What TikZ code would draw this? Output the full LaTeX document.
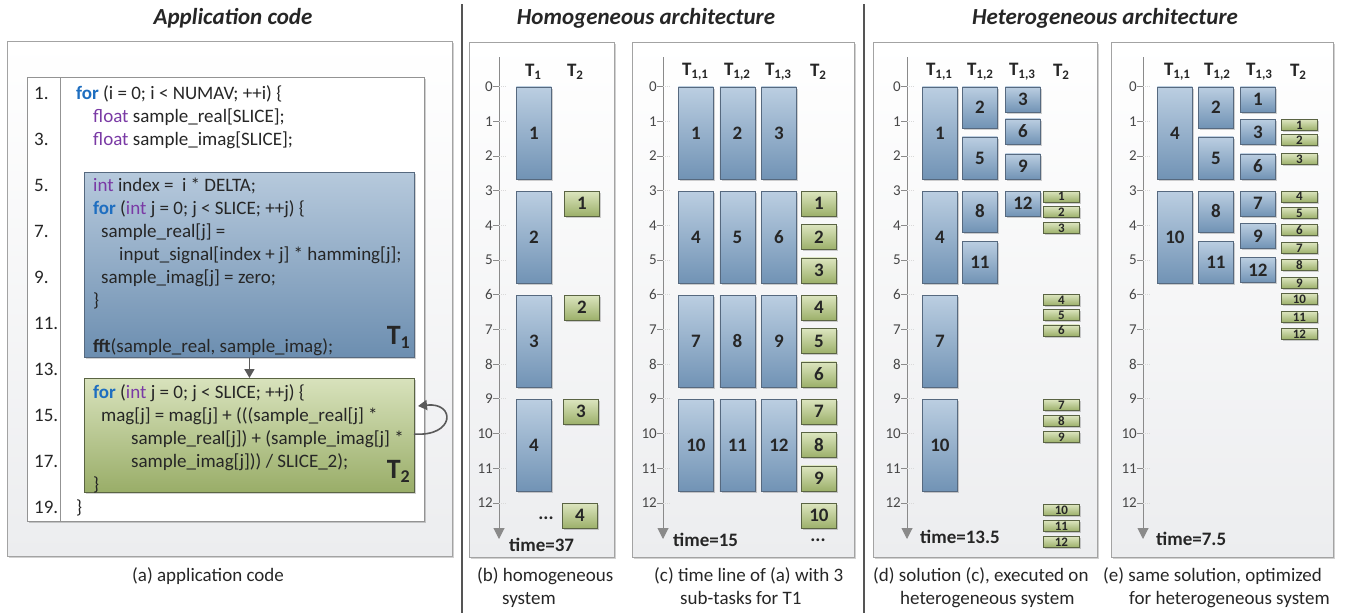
\documentclass[tikz,border=0pt]{standalone}
\usepackage{fontspec}
\setmainfont{Carlito}
\usetikzlibrary{arrows.meta,shadows}

\definecolor{ink}{HTML}{262626}
\definecolor{panelborder}{HTML}{A3A3A3}
\definecolor{panelbot}{HTML}{ECEDEF}
\definecolor{bluetop}{HTML}{BBCEE1}
\definecolor{bluebot}{HTML}{7193B5}
\definecolor{blueedge}{HTML}{56697F}
\definecolor{greentop}{HTML}{DCE5BF}
\definecolor{greenbot}{HTML}{9CB06A}
\definecolor{greenedge}{HTML}{5A6443}
\definecolor{codebluetop}{HTML}{B6C9DC}
\definecolor{codebluebot}{HTML}{6C8EB0}
\definecolor{codegreentop}{HTML}{D8E2BC}
\definecolor{codegreenbot}{HTML}{99AD68}
\definecolor{kwblue}{HTML}{1E6EC0}
\definecolor{kwpurple}{HTML}{7A3AA5}
\definecolor{axisgray}{HTML}{8A8A8A}
\definecolor{sepgray}{HTML}{555555}
\definecolor{arrowgray}{HTML}{5A5A5A}

\newcommand\kwfor[1]{\textcolor{kwblue}{\bfseries #1}}
\newcommand\kwtype[1]{\textcolor{kwpurple}{#1}}
\newcommand\Th[1]{T\raisebox{-0.35ex}{\fontsize{13}{13}\selectfont #1}}

\tikzset{
  softshadow/.style={drop shadow={shadow xshift=2pt,shadow yshift=-2pt,fill=black,opacity=0.18}},
  panel/.style={draw=panelborder, line width=0.8pt, top color=white, bottom color=panelbot,
    anchor=north west, inner sep=0, softshadow},
  codepanel/.style={draw=panelborder!90!black, line width=0.8pt, fill=white,
    anchor=north west, inner sep=0, softshadow},
  title/.style={font=\fontsize{23}{23}\selectfont\bfseries\itshape, text=ink},
  caption/.style={font=\fontsize{19}{22}\selectfont, text=ink, anchor=base west, inner sep=0},
  codetext/.style={font=\fontsize{19}{23}\selectfont, text=ink, anchor=base west, inner sep=0},
  codeblue/.style={draw=blueedge, line width=0.9pt, top color=codebluetop, bottom color=codebluebot,
    anchor=north west, inner sep=0, minimum width=330, softshadow},
  codegreen/.style={draw=greenedge, line width=0.9pt, top color=codegreentop, bottom color=codegreenbot,
    anchor=north west, inner sep=0, minimum width=330, softshadow},
  tasklabel/.style={font=\fontsize{28}{28}\selectfont\bfseries, text=ink, anchor=base east, inner sep=0},
  bluetask/.style={draw=blueedge, line width=0.8pt, top color=bluetop, bottom color=bluebot,
    anchor=north west, inner sep=0, minimum width=35, text=ink,
    font=\fontsize{19}{19}\selectfont\bfseries, softshadow},
  greentask/.style={draw=greenedge, line width=0.8pt, top color=greentop, bottom color=greenbot,
    anchor=north west, inner sep=0, minimum width=35, text=ink,
    font=\fontsize{19}{19}\selectfont\bfseries, softshadow},
  greenslim/.style={draw=greenedge, line width=0.8pt, top color=greentop, bottom color=greenbot,
    anchor=north west, inner sep=0, minimum width=36, minimum height=11, text=ink,
    font=\fontsize{13}{13}\selectfont\bfseries, softshadow},
  header/.style={font=\fontsize{19}{19}\selectfont\bfseries, text=ink},
  ticklabel/.style={font=\fontsize{15}{15}\selectfont, text=ink!85, anchor=east, inner sep=0},
  axisline/.style={draw=axisgray, line width=1pt, -{Triangle[width=11pt,length=11pt]}},
  tick/.style={draw=axisgray, line width=0.8pt},
  minortick/.style={draw=black!15, line width=0.8pt, dash pattern=on 1pt off 1pt},
  timelabel/.style={font=\fontsize{19}{19}\selectfont\bfseries, text=ink, anchor=west, inner sep=0},
  flow/.style={draw=arrowgray, line width=1.6pt, -{Triangle[width=10pt,length=9pt]}},
  separator/.style={draw=sepgray, line width=1.8pt},
}

\newcommand\bluebox[5]{\node[bluetask, minimum height=#4] (#1) at (#2,#3) {#5};}
\newcommand\greenbox[5]{\node[greentask, minimum height=#4] (#1) at (#2,#3) {#5};}
\newcommand\slimbox[4]{\node[greenslim] (#1) at (#2,#3) {#4};}
\newcommand\codeat[4]{%
  \pgfmathsetmacro\cy{99+(#2-1)*23}%
  \node[codetext] (#1) at (#3,\cy) {#4};}
\newcommand\timeaxis[2]{%
  \coordinate (#1top) at (#2,57);
  \coordinate (#1bot) at (#2,539);
  \draw[axisline] (#1top) -- (#1bot);
  \foreach \k in {0,...,12}{%
    \pgfmathsetmacro\ty{86.5+34.7*\k}%
    \draw[tick] (#2-6,\ty) -- (#2,\ty);
    \draw[minortick] (#2,\ty) -- (#2+7,\ty);
    \node[ticklabel] (#1t\k) at (#2-6,\ty) {\k};
  }}

\begin{document}
\begin{tikzpicture}[x=1pt,y=-1pt]
\useasboundingbox (0,0) rectangle (1346,614);

% section titles and separators
\node[title] (ttlA) at (233,18) {Application code};
\node[title] (ttlB) at (646,18) {Homogeneous architecture};
\node[title] (ttlC) at (1105,18) {Heterogeneous architecture};
\coordinate (sepAt) at (462,4);  \coordinate (sepAb) at (462,613);
\coordinate (sepBt) at (864,4);  \coordinate (sepBb) at (864,613);
\draw[separator] (sepAt) -- (sepAb);
\draw[separator] (sepBt) -- (sepBb);

% ---------- (a) application code ----------
\node[panel, minimum width=445, minimum height=515] (pa) at (7,41) {};
\node[codepanel, minimum width=397, minimum height=444] (code) at (27,77) {};
\coordinate (divt) at (60,77); \coordinate (divb) at (60,521);
\draw[draw=panelborder!90!black, line width=0.8pt] (divt) -- (divb);

\node[codeblue, minimum height=185] (T1) at (84,172) {};
\node[codegreen, minimum height=114] (T2) at (84,378) {};

\foreach \n in {1,3,...,19}{%
  \pgfmathsetmacro\ly{99+(\n-1)*23}%
  \node[codetext] (ln\n) at (34,\ly) {\n.};
}

\codeat{c1}{1}{76}{\kwfor{for} (i = 0; i < NUMAV; ++i) \{}
\codeat{c2}{2}{93}{\kwtype{float} sample\_real[SLICE];}
\codeat{c3}{3}{93}{\kwtype{float} sample\_imag[SLICE];}
\codeat{c5}{5}{93}{\kwtype{int} index = \ i * DELTA;}
\codeat{c6}{6}{93}{\kwfor{for} (\kwtype{int} j = 0; j < SLICE; ++j) \{}
\codeat{c7}{7}{101}{sample\_real[j] =}
\codeat{c8}{8}{119}{input\_signal[index + j] * hamming[j];}
\codeat{c9}{9}{101}{sample\_imag[j] = zero;}
\codeat{c10}{10}{93}{\}}
\codeat{c12}{12}{93}{\textbf{fft}(sample\_real, sample\_imag);}
\codeat{c14}{14}{93}{\kwfor{for} (\kwtype{int} j = 0; j < SLICE; ++j) \{}
\codeat{c15}{15}{101}{mag[j] = mag[j] + (((sample\_real[j] *}
\codeat{c16}{16}{131}{sample\_real[j]) + (sample\_imag[j] *}
\codeat{c17}{17}{131}{sample\_imag[j])) / SLICE\_2);}
\codeat{c18}{18}{93}{\}}
\codeat{c19}{19}{76}{\}}

\node[tasklabel] (T1lab) at (410,344) {T\raisebox{-0.3ex}{\fontsize{18}{18}\selectfont 1}};
\node[tasklabel] (T2lab) at (410,478) {T\raisebox{-0.3ex}{\fontsize{18}{18}\selectfont 2}};

\draw[flow] (T1.south) -- (T2.north);
\coordinate (loopout) at (414,434);
\coordinate (loopin) at (418,406);
\draw[flow] (loopout) .. controls (455,437) and (456,402) .. (loopin);

\node[caption] (capa) at (132,581) {(a) application code};

% ---------- (b) homogeneous system ----------
\node[panel, minimum width=145, minimum height=515] (pb) at (469,42) {};
\timeaxis{axb}{499}
\node[header] (hb1) at (533,72) {\Th{1}};
\node[header] (hb2) at (575,72) {\Th{2}};
\bluebox{b1}{516}{86.5}{92}{1}
\bluebox{b2}{516}{190.6}{92}{2}
\bluebox{b3}{516}{294.7}{92}{3}
\bluebox{b4}{516}{398.8}{92}{4}
\greenbox{bg1}{564}{190.6}{25}{1}
\greenbox{bg2}{564}{294.7}{25}{2}
\greenbox{bg3}{563}{398.8}{25}{3}
\greenbox{bg4}{562}{502.9}{25}{4}
\node[header] (bdots) at (546,518) {...};
\node[timelabel] (timeb) at (509,545) {time=37};
\node[caption] (capb1) at (477,581) {(b) homogeneous};
\node[caption] (capb2) at (502,604) {system};

% ---------- (c) time line with three sub-tasks ----------
\node[panel, minimum width=222, minimum height=515] (pc) at (632,42) {};
\timeaxis{axc}{663}
\node[header] (hc1) at (695,72) {\Th{1,1}};
\node[header] (hc2) at (737,72) {\Th{1,2}};
\node[header] (hc3) at (778,72) {\Th{1,3}};
\node[header] (hc4) at (818,72) {\Th{2}};
\foreach \r/\tp in {0/86.5,1/190.6,2/294.7,3/398.8}{%
  \foreach \c/\x in {1/678,2/719.5,3/761}{%
    \pgfmathtruncatemacro\lab{3*\r+\c}%
    \bluebox{c\lab}{\x}{\tp}{92}{\lab}
  }}
\foreach \g/\tp in {1/190.6,2/224,3/257.5,4/294.7,5/328,6/361.5,7/398.8,8/432,9/465.5,10/502.9}{%
  \greenbox{cg\g}{801}{\tp}{25}{\g}
}
\node[header] (cdots) at (818,540) {...};
\node[timelabel] (timec) at (673,540) {time=15};
\node[caption] (capc1) at (654,581) {(c) time line of (a) with 3};
\node[caption] (capc2) at (680,604) {sub-tasks for T1};

% ---------- (d) solution on heterogeneous system ----------
\node[panel, minimum width=224, minimum height=515] (pd) at (873,42) {};
\timeaxis{axd}{907}
\node[header] (hd1) at (939,72) {\Th{1,1}};
\node[header] (hd2) at (980,72) {\Th{1,2}};
\node[header] (hd3) at (1022,72) {\Th{1,3}};
\node[header] (hd4) at (1061,72) {\Th{2}};
\bluebox{d1}{922}{86.5}{92}{1}
\bluebox{d4}{922}{190.6}{92}{4}
\bluebox{d7}{922}{294.7}{92}{7}
\bluebox{d10}{922}{398.8}{92}{10}
\bluebox{d2}{962}{86.5}{41}{2}
\bluebox{d5}{962}{136.5}{42}{5}
\bluebox{d8}{962}{190.6}{41}{8}
\bluebox{d11}{962}{240.6}{42}{11}
\bluebox{d3}{1005}{86.5}{25}{3}
\bluebox{d6}{1005}{118.5}{25}{6}
\bluebox{d9}{1005}{153.5}{25}{9}
\bluebox{d12}{1005}{190.6}{25}{12}
\foreach \g/\tp in {1/190.6,2/206,3/222,4/294,5/309,6/324.5,7/399,8/415,9/431,10/504,11/520,12/536}{%
  \slimbox{dg\g}{1043}{\tp}{\g}
}
\node[timelabel] (timed) at (920,537) {time=13.5};
\node[caption] (capd1) at (873,581) {(d) solution (c), executed on};
\node[caption] (capd2) at (900,604) {heterogeneous system};

% ---------- (e) optimized for heterogeneous system ----------
\node[panel, minimum width=222, minimum height=515] (pe) at (1111,42) {};
\timeaxis{axe}{1143}
\node[header] (he1) at (1177,72) {\Th{1,1}};
\node[header] (he2) at (1217,72) {\Th{1,2}};
\node[header] (he3) at (1259,72) {\Th{1,3}};
\node[header] (he4) at (1298,72) {\Th{2}};
\bluebox{e4}{1157}{86.5}{92}{4}
\bluebox{e10}{1157}{190.6}{92}{10}
\bluebox{e2}{1198}{86.5}{41}{2}
\bluebox{e5}{1198}{136.5}{42}{5}
\bluebox{e8}{1198}{190.6}{41}{8}
\bluebox{e11}{1198}{240.6}{42}{11}
\bluebox{e1}{1240}{86.5}{25}{1}
\bluebox{e3}{1240}{119}{25}{3}
\bluebox{e6}{1240}{153.5}{25}{6}
\bluebox{e7}{1240}{190.6}{25}{7}
\bluebox{e9}{1240}{223}{25}{9}
\bluebox{e12}{1240}{257}{25}{12}
\foreach \g/\tp in {1/119,2/134,3/153,4/190.6,5/207,6/224,7/242,8/259,9/277,10/293,11/311,12/328}{%
  \slimbox{eg\g}{1281}{\tp}{\g}
}
\node[timelabel] (timee) at (1156,539) {time=7.5};
\node[caption] (cape1) at (1103,581) {(e) same solution, optimized};
\node[caption] (cape2) at (1129,604) {for heterogeneous system};

\end{tikzpicture}
\end{document}
